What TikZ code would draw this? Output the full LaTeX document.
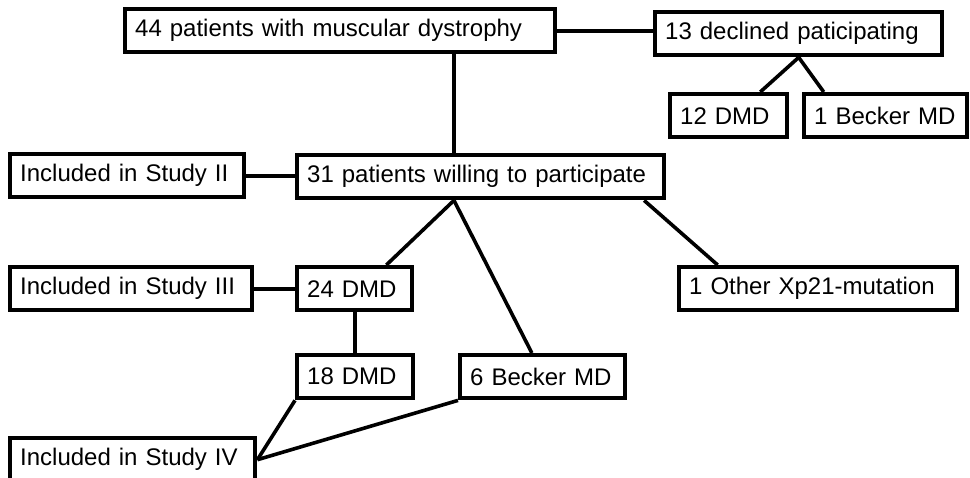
\documentclass[tikz,border=0pt]{standalone}
\usepackage{fontspec}
\setmainfont{Liberation Sans}
\usepackage{tikz}
\usetikzlibrary{calc}

\tikzset{
	box/.style={draw, line width=2.2pt, anchor=north west, inner xsep=5pt, inner ysep=0pt,
		minimum height=21.5pt, text width=#1*0.5pt-10pt, align=left,
		font=\fontsize{12pt}{14pt}\selectfont},
	link/.style={line width=1.8pt}
}

\begin{document}
\begin{tikzpicture}[x=0.5pt,y=-0.5pt]
			\useasboundingbox (0,0) rectangle (970,477);

			\node[box=430] (all) at (123,7) {44 patients with muscular dystrophy};
			\node[box=287] (declined) at (653,10) {13 declined paticipating};
			\node[box=117] (decDMD) at (668,92) {12 DMD};
			\node[box=163] (decBMD) at (802,92) {1 Becker MD};
			\node[box=234] (studyII) at (8,152) {Included in Study II};
			\node[box=367] (willing) at (295,153) {31 patients willing to participate};
			\node[box=242] (studyIII) at (8,265) {Included in Study III};
			\node[box=115] (dmd) at (295,265) {24 DMD};
			\node[box=278] (other) at (677,265) {1 Other Xp21-mutation};
			\node[box=116] (dmdIV) at (295,353) {18 DMD};
			\node[box=165] (bmd) at (458,353) {6 Becker MD};
			\node[box=245] (studyIV) at (8,436) {Included in Study IV};

			\coordinate (fork) at ($(willing.south west)!0.428!(willing.south east)$);

			\draw[link] (all.east) -- (all.east -| declined.west);
			\draw[link] (all.south -| fork) -- (willing.north -| fork);
			\draw[link] (declined.south) -- ($(decDMD.north west)!0.76!(decDMD.north east)$);
			\draw[link] (declined.south) -- ($(decBMD.north west)!0.13!(decBMD.north east)$);

			\draw[link] (studyII.east) -- (studyII.east -| willing.west);
			\draw[link] (fork) -- ($(dmd.north west)!0.765!(dmd.north east)$);
			\draw[link] (fork) -- ($(bmd.north west)!0.436!(bmd.north east)$);
			\draw[link] ($(willing.south west)!0.94!(willing.south east)$) -- ($(other.north west)!0.144!(other.north east)$);

			\draw[link] (studyIII.east) -- (dmd.west);
			\draw[link] (dmd.south) -- (dmd.south |- dmdIV.north);

			\draw[link] (studyIV.east) -- (dmdIV.south west);
			\draw[link] (studyIV.east) -- (bmd.south west);
\end{tikzpicture}
\end{document}
